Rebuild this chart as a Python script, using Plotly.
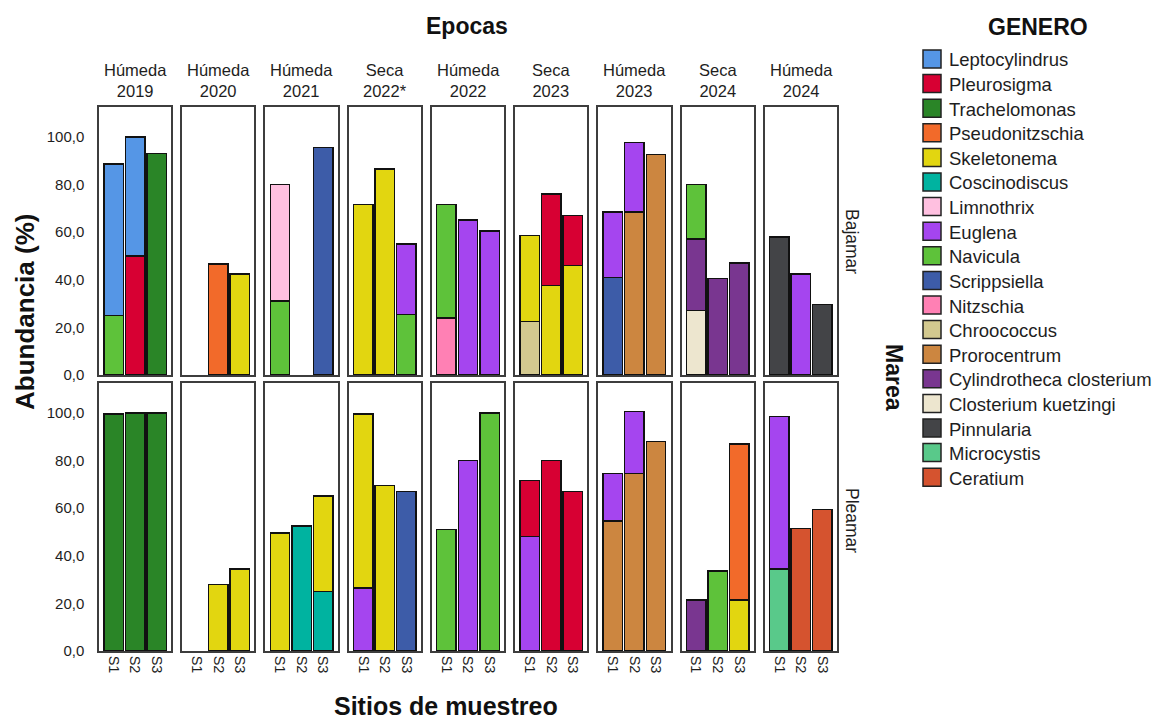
import plotly.graph_objects as go
from plotly.subplots import make_subplots

# ---------------------------------------------------------------- data
epocas = [
    ("Húmeda", "2019"), ("Húmeda", "2020"), ("Húmeda", "2021"),
    ("Seca", "2022*"), ("Húmeda", "2022"), ("Seca", "2023"),
    ("Húmeda", "2023"), ("Seca", "2024"), ("Húmeda", "2024"),
]
mareas = ["Bajamar", "Pleamar"]
sitios = ["S1", "S2", "S3"]

generos = [
    "Leptocylindrus", "Pleurosigma", "Trachelomonas", "Pseudonitzschia",
    "Skeletonema", "Coscinodiscus", "Limnothrix", "Euglena", "Navicula",
    "Scrippsiella", "Nitzschia", "Chroococcus", "Prorocentrum",
    "Cylindrotheca closterium", "Closterium kuetzingi", "Pinnularia",
    "Microcystis", "Ceratium",
]
colores = [
    "#5596e6", "#d70033", "#2a8527", "#f26a2a", "#e2d610", "#00b3a0",
    "#ffc0e0", "#a545ef", "#5ec23a", "#3d5ca8", "#ff80b4", "#d3c98f",
    "#cc8640", "#793690", "#ede6cf", "#434447", "#59c98a", "#d5532f",
]

# Abundance (%) per genus at sites S1, S2, S3 — Bajamar
baj_humeda_2019 = {"Leptocylindrus": [63.5, 50, 0], "Pleurosigma": [0, 50, 0],
                   "Trachelomonas": [0, 0, 93], "Navicula": [25, 0, 0]}
baj_humeda_2020 = {"Pseudonitzschia": [0, 46.5, 0], "Skeletonema": [0, 0, 42.5]}
baj_humeda_2021 = {"Limnothrix": [49, 0, 0], "Navicula": [31, 0, 0],
                   "Scrippsiella": [0, 0, 95.5]}
baj_seca_2022 = {"Skeletonema": [71.5, 86.5, 0], "Euglena": [0, 0, 29.5],
                 "Navicula": [0, 0, 25.5]}
baj_humeda_2022 = {"Euglena": [0, 65, 60.5], "Navicula": [47.5, 0, 0],
                   "Nitzschia": [24, 0, 0]}
baj_seca_2023 = {"Pleurosigma": [0, 38.5, 21], "Skeletonema": [36, 37.5, 46],
                 "Chroococcus": [22.5, 0, 0]}
baj_humeda_2023 = {"Euglena": [27.5, 29, 0], "Scrippsiella": [41, 0, 0],
                   "Prorocentrum": [0, 68.5, 92.5]}
baj_seca_2024 = {"Navicula": [23, 0, 0], "Cylindrotheca closterium": [30, 40.5, 47],
                 "Closterium kuetzingi": [27, 0, 0]}
baj_humeda_2024 = {"Euglena": [0, 42.5, 0], "Pinnularia": [58, 0, 29.5]}

# Abundance (%) per genus at sites S1, S2, S3 — Pleamar
plea_humeda_2019 = {"Trachelomonas": [99.5, 100, 100]}
plea_humeda_2020 = {"Skeletonema": [0, 28, 34.5]}
plea_humeda_2021 = {"Skeletonema": [49.5, 0, 40], "Coscinodiscus": [0, 52.5, 25]}
plea_seca_2022 = {"Skeletonema": [73, 69.5, 0], "Euglena": [26.5, 0, 0],
                  "Scrippsiella": [0, 0, 67]}
plea_humeda_2022 = {"Euglena": [0, 80, 0], "Navicula": [51, 0, 100]}
plea_seca_2023 = {"Pleurosigma": [23.5, 80, 67], "Euglena": [48, 0, 0]}
plea_humeda_2023 = {"Euglena": [20, 26, 0], "Prorocentrum": [54.5, 74.5, 88]}
plea_seca_2024 = {"Pseudonitzschia": [0, 0, 65.5], "Skeletonema": [0, 0, 21.5],
                  "Navicula": [0, 33.5, 0], "Cylindrotheca closterium": [21.5, 0, 0]}
plea_humeda_2024 = {"Euglena": [64, 0, 0], "Microcystis": [34.5, 0, 0],
                    "Ceratium": [0, 51.5, 59.5]}

paneles = [
    [baj_humeda_2019, baj_humeda_2020, baj_humeda_2021, baj_seca_2022,
     baj_humeda_2022, baj_seca_2023, baj_humeda_2023, baj_seca_2024,
     baj_humeda_2024],
    [plea_humeda_2019, plea_humeda_2020, plea_humeda_2021, plea_seca_2022,
     plea_humeda_2022, plea_seca_2023, plea_humeda_2023, plea_seca_2024,
     plea_humeda_2024],
]

# ---------------------------------------------------------------- layout
W, H = 1157, 723
L, R, T, B = 99, 837, 107, 651
FONT = "Liberation Sans, Arial, sans-serif"
INK = "#1e1e1e"


def px(x):
    return (x - L) / (R - L)


def py(y):
    return (B - y) / (B - T)


fig = make_subplots(rows=2, cols=9,
                    horizontal_spacing=11 / (R - L),
                    vertical_spacing=8 / (B - T))

color_de = dict(zip(generos, colores))
x_pos = list(range(len(sitios)))

for r, fila in enumerate(paneles):
    for c, panel in enumerate(fila):
        # legend order runs top-down in the stack, so add from the end
        for g in reversed(generos):
            if g not in panel:
                continue
            vals = [v if v else None for v in panel[g]]
            fig.add_trace(
                go.Bar(x=x_pos, y=vals, name=g, showlegend=False,
                       marker=dict(color=color_de[g],
                                   line=dict(color="#111111", width=1.5)),
                       hovertemplate=g + ": %{y:.1f}%<extra></extra>"),
                row=r + 1, col=c + 1)

fig.update_layout(barmode="stack", bargap=0.1)

fig.update_xaxes(range=[-0.675, 2.675], tickvals=x_pos, ticktext=sitios,
                 tickangle=90, ticks="", showgrid=False, zeroline=False,
                 showline=True, mirror=True, linecolor="#3d3d3d", linewidth=1.5,
                 tickfont=dict(family=FONT, size=14.5, color=INK),
                 showticklabels=False)
fig.update_xaxes(showticklabels=True, row=2)
fig.update_yaxes(range=[0, 112.5], dtick=20, tickformat=".1f", ticks="",
                 showgrid=False, zeroline=False, showline=True, mirror=True,
                 linecolor="#3d3d3d", linewidth=1.5, showticklabels=False,
                 ticklabelstandoff=10,
                 tickfont=dict(family=FONT, size=15, color=INK))
fig.update_yaxes(showticklabels=True, col=1)

ann = []
# column headers (season over year)
for c, (temporada, anio) in enumerate(epocas):
    cx = L + c * (R - L - 72) / 8 + 36
    ann.append(dict(x=px(cx), y=py(80), text=temporada + "<br>" + anio,
                    font=dict(family=FONT, size=16.5, color=INK)))
# row labels
for texto, cy in zip(mareas, [241, 520]):
    ann.append(dict(x=px(852), y=py(cy), text=texto, textangle=90,
                    font=dict(family=FONT, size=17.5, color=INK)))
# facet and axis titles
ann += [
    dict(x=px(467), y=py(26), text="<b>Epocas</b>",
         font=dict(family=FONT, size=23, color="#111")),
    dict(x=px(894), y=py(378), text="<b>Marea</b>", textangle=90,
         font=dict(family=FONT, size=23, color="#111")),
    dict(x=px(25), y=py(312), text="<b>Abundancia (%)</b>", textangle=-90,
         font=dict(family=FONT, size=26, color="#111")),
    dict(x=px(446), y=py(706), text="<b>Sitios de muestreo</b>",
         font=dict(family=FONT, size=25, color="#111")),
    dict(x=px(1038), y=py(27), text="<b>GENERO</b>",
         font=dict(family=FONT, size=23, color="#111")),
]

# genus key
shapes = []
for i, (g, col) in enumerate(zip(generos, colores)):
    yc = 59 + i * 24.6
    shapes.append(dict(type="rect", xref="paper", yref="paper",
                       x0=px(923), x1=px(941), y0=py(yc + 9), y1=py(yc - 9),
                       fillcolor=col, line=dict(color="#222222", width=1.5)))
    ann.append(dict(x=px(947), y=py(yc + 1), text=g, xanchor="left",
                    font=dict(family=FONT, size=18.5, color=INK)))

for a in ann:
    a.setdefault("xref", "paper")
    a.setdefault("yref", "paper")
    a.setdefault("showarrow", False)
    a.setdefault("xanchor", "center")
    a.setdefault("yanchor", "middle")

fig.update_layout(
    width=W, height=H,
    margin=dict(l=L, r=W - R, t=T, b=H - B, pad=0),
    paper_bgcolor="white", plot_bgcolor="white",
    separators=",.",
    annotations=ann, shapes=shapes,
    font=dict(family=FONT, color=INK),
)

fig.write_html("out.html")
